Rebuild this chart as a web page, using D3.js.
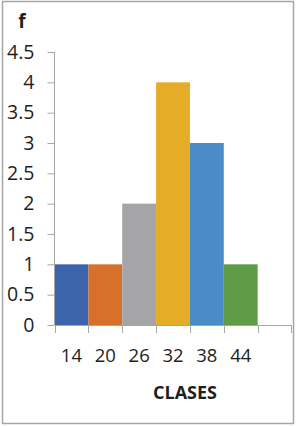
<!DOCTYPE html>
<html>
<head>
<meta charset="utf-8">
<script src="https://cdn.jsdelivr.net/npm/d3@7"></script>
<style>
  body { margin: 0; background: #fff; }
  text { font-family: "Open Sans", "DejaVu Sans", sans-serif; fill: #1e1e1e; }
</style>
</head>
<body>
<script>
// data
var classes = ["14", "20", "26", "32", "38", "44", ""];
var freq = [1, 1, 2, 4, 3, 1, 0];
var colors = ["#3b64ad", "#d6702b", "#a5a5a7", "#e5ac28", "#4a8cc6", "#5f9c45", "#ffffff"];
var yTicks = [0, 0.5, 1, 1.5, 2, 2.5, 3, 3.5, 4, 4.5];

var w = 297, h = 426;
var axisColor = "#a6a6a6";

var svg = d3.select("body").append("svg")
    .attr("width", w)
    .attr("height", h);

// outer frame
svg.append("rect")
    .attr("x", 2.5).attr("y", 1.5)
    .attr("width", 291).attr("height", 422)
    .attr("fill", "none")
    .attr("stroke", axisColor)
    .attr("stroke-width", 1.5);

// scales
var x = d3.scaleBand()
    .domain(d3.range(classes.length))
    .range([54.5, 291.5])
    .padding(0);

var y = d3.scaleLinear()
    .domain([0, 4.5])
    .range([325, 52]);

// bars
svg.selectAll(".bar")
    .data(freq)
    .enter()
    .append("rect")
    .attr("class", "bar")
    .attr("x", function(d, i) { return x(i); })
    .attr("y", function(d) { return y(d); })
    .attr("width", x.bandwidth())
    .attr("height", function(d) { return y(0) - y(d); })
    .attr("fill", function(d, i) { return colors[i]; });

// y axis
var yAxis = d3.axisLeft(y)
    .tickValues(yTicks)
    .tickSize(7)
    .tickPadding(13)
    .tickFormat(function(d) { return d3.format("")(d); });

var gy = svg.append("g")
    .attr("transform", "translate(54.5,0)")
    .call(yAxis);
gy.select(".domain").attr("stroke", axisColor).attr("d", "M0," + y(4.5) + "V" + y(0));
gy.selectAll(".tick line").attr("stroke", axisColor);
gy.selectAll(".tick text")
    .style("font-size", "19.5px")
    .attr("fill", "#1e1e1e");

// x axis: labels at band centers, ticks at band edges
var edges = d3.range(classes.length + 1).map(function(i) {
    return i < classes.length ? x(i) : x(classes.length - 1) + x.bandwidth();
});

var gx = svg.append("g")
    .attr("transform", "translate(0," + y(0) + ")");

gx.append("line")
    .attr("x1", edges[0]).attr("x2", edges[edges.length - 1])
    .attr("y1", 0.5).attr("y2", 0.5)
    .attr("stroke", axisColor);

gx.selectAll(".edge")
    .data(edges)
    .enter()
    .append("line")
    .attr("class", "edge")
    .attr("x1", function(d) { return Math.round(d) + 0.5; })
    .attr("x2", function(d) { return Math.round(d) + 0.5; })
    .attr("y1", 0).attr("y2", 8)
    .attr("stroke", axisColor);

gx.selectAll(".xlab")
    .data(classes)
    .enter()
    .append("text")
    .attr("class", "xlab")
    .attr("x", function(d, i) { return x(i) + x.bandwidth() / 2; })
    .attr("y", 37)
    .attr("text-anchor", "middle")
    .style("font-size", "18.5px")
    .text(function(d) { return d; });

// axis titles
svg.append("text")
    .attr("x", 22)
    .attr("y", 28)
    .attr("text-anchor", "middle")
    .style("font-size", "19px")
    .style("font-weight", "bold")
    .text("f");

svg.append("text")
    .attr("x", 185)
    .attr("y", 399)
    .attr("text-anchor", "middle")
    .style("font-size", "18px")
    .style("font-weight", "bold")
    .text("CLASES");
</script>
</body>
</html>
